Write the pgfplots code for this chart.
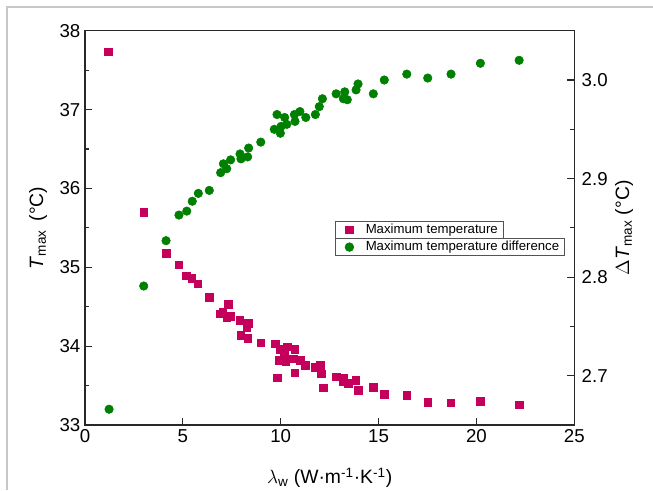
\documentclass[border=0pt]{standalone}
\usepackage{fontspec}
\setmainfont{Liberation Sans}
\usepackage{pgfplots}
\pgfplotsset{compat=1.18}
\definecolor{cr}{RGB}{196,0,92}
\definecolor{cg}{RGB}{0,128,0}
\definecolor{axc}{RGB}{40,40,40}

\pgfplotstableread{
x y
1.18 37.73
3.01 35.70
4.14 35.18
4.79 35.03
5.18 34.89
5.45 34.86
5.77 34.79
6.35 34.62
7.32 34.53
6.90 34.41
7.03 34.43
7.24 34.36
7.44 34.38
7.92 34.33
8.35 34.29
8.26 34.24
7.95 34.14
8.31 34.10
8.98 34.04
9.73 34.03
9.96 33.96
10.34 33.99
10.73 33.96
10.19 33.89
9.93 33.82
10.25 33.81
10.64 33.84
10.99 33.82
11.26 33.76
11.77 33.73
12.01 33.76
10.73 33.66
9.83 33.60
12.08 33.65
12.18 33.47
12.83 33.61
13.23 33.60
13.20 33.55
13.45 33.53
13.83 33.57
13.95 33.44
14.72 33.48
15.28 33.39
16.44 33.38
17.51 33.29
18.70 33.28
20.20 33.30
22.18 33.26
}\tmaxtable

\pgfplotstableread{
x y
1.23 2.666
3.00 2.791
4.14 2.837
4.80 2.863
5.20 2.867
5.48 2.877
5.79 2.885
6.35 2.888
6.93 2.906
7.07 2.915
7.24 2.910
7.44 2.919
7.92 2.925
7.97 2.920
8.31 2.922
8.36 2.931
8.98 2.937
9.67 2.950
9.81 2.965
9.98 2.946
10.02 2.953
10.20 2.962
10.31 2.955
10.70 2.965
10.73 2.958
10.98 2.968
11.28 2.962
11.77 2.965
11.97 2.973
12.13 2.981
12.83 2.986
13.27 2.988
13.20 2.981
13.40 2.980
13.85 2.990
13.95 2.996
14.73 2.986
15.29 3.000
16.44 3.006
17.51 3.002
18.70 3.006
20.20 3.017
22.18 3.020
}\dtmaxtable

\pgfplotsset{
  common/.style={
    width=367pt, height=295.7pt, scale only axis,
    at={(0pt,0pt)}, anchor=south west,
    xmin=0, xmax=25,
    axis line style={axc, line width=1pt},
    every tick/.style={axc, line width=0.9pt},
    major tick length=5.5pt, minor tick length=3pt,
    tick align=inside,
    tick label style={font=\fontsize{14}{16}\selectfont},
    /pgf/number format/assume math mode=true,
    label style={font=\fontsize{14.5}{17}\selectfont},
    legend style={draw=axc!80, line width=0.6pt, font=\fontsize{9.9}{11}\selectfont,
      inner xsep=2pt, inner ysep=0pt, nodes={inner xsep=2pt, inner ysep=2.1pt},
      legend cell align=left, anchor=north west},
    legend image code/.code={\path (0cm,-0.1cm) (0.65cm,0.1cm);
      \draw[##1] plot coordinates {(0.3cm,0cm)};},
  }
}

\begin{document}
\begin{tikzpicture}
\useasboundingbox (-63.75pt,-48.75pt) rectangle (426pt,318.75pt);
\draw[black!22, line width=0.8pt] (-58.5pt,-48.75pt) -- (-58.5pt,313.5pt) -- (426pt,313.5pt);

\begin{axis}[common,
  ymin=33, ymax=38,
  xtick={0,5,...,25}, minor x tick num=0,
  ytick={33,34,...,38}, minor y tick num=1,
  xtick pos=left, ytick pos=left,
  xlabel={$\lambda$\textsubscript{w} (W·m\textsuperscript{-1}·K\textsuperscript{-1})},
  ylabel={\textit{T}\textsubscript{max} \,(°C)},
  xlabel style={at={(axis description cs:0.5,-0.1496)}, anchor=base},
  ylabel style={at={(axis description cs:-0.0858,0.5)}, anchor=base},
  legend style={at={(0.510,0.518)}},
]
\addplot[only marks, mark=square*, mark size=2.8pt, color=cr] table[x=x,y=y]{\tmaxtable};
\addlegendentry{Maximum temperature}
\end{axis}

\begin{axis}[common,
  ymin=2.65, ymax=3.05,
  axis x line=none, axis y line*=right,
  ytick={2.7,2.8,2.9,3.0}, minor ytick={2.75,2.85,2.95},
  yticklabel style={/pgf/number format/.cd, fixed, fixed zerofill, precision=1, /tikz/.cd, xshift=2pt},
  ylabel={$\Delta$\textit{T}\textsubscript{max} (°C)},
  ylabel style={at={(axis description cs:1.1118,0.5)}, anchor=base, rotate=0},
  legend style={at={(0.510,0.474)}},
]
\addplot[only marks, mark=*, mark size=3.2pt, color=cg] table[x=x,y=y]{\dtmaxtable};
\addlegendentry{Maximum temperature difference}
\end{axis}
\end{tikzpicture}
\end{document}
